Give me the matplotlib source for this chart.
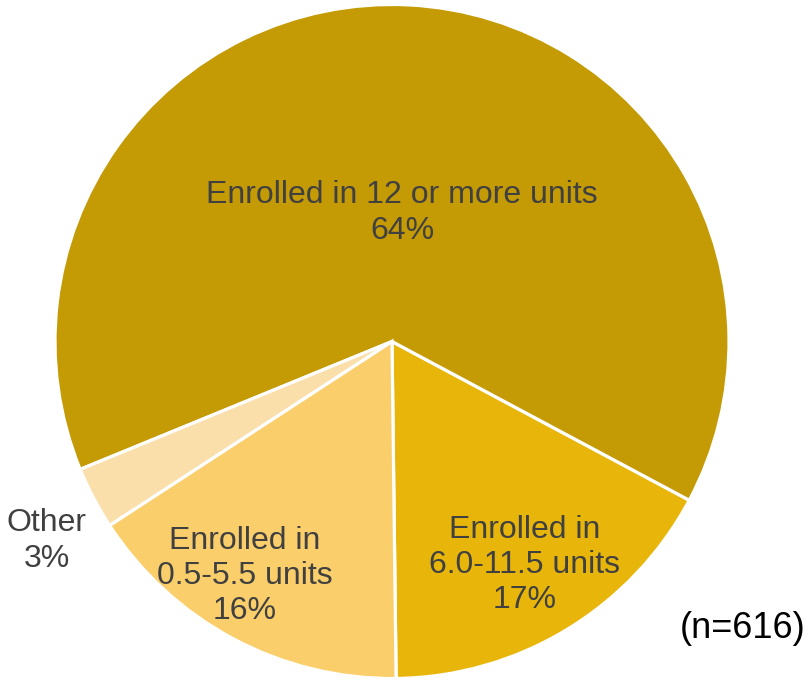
import matplotlib.pyplot as plt

plt.rcParams["font.family"] = ["Liberation Sans", "DejaVu Sans"]

# enrollment shares, counter-clockwise from the bottom
categories = ["Enrolled in\n6.0-11.5 units", "Enrolled in 12 or more units",
              "Other", "Enrolled in\n0.5-5.5 units"]
shares = [17, 64, 3, 16]
colors = ["#E8B60B", "#C49A05", "#FADFAB", "#FACE6A"]
sample_size = 616

W, H = 812, 681
fig = plt.figure(figsize=(W / 100, H / 100), dpi=100)
ax = fig.add_axes([0, 0, 1, 1])
ax.set_aspect("equal")
ax.axis("off")

cx, cy, r = 392, H - 341.5, 337
ax.pie(shares, colors=colors, startangle=-89.3, counterclock=True,
       center=(cx, cy), radius=r,
       wedgeprops=dict(edgecolor="white", linewidth=2.3))
ax.set_xlim(0, W)
ax.set_ylim(0, H)

# label placement (pixel coords, y from top)
label_pos = [(525, 565), (402, 213), (47, 541), (245, 576)]
for cat, val, (px, py) in zip(categories, shares, label_pos):
    ax.text(px, H - py, f"{cat}\n{val}%", ha="center", va="center",
            fontsize=23, color="#404040", linespacing=1.22)

ax.text(806, H - 629, f"(n={sample_size})", ha="right", va="center",
        fontsize=26, color="black")

fig.savefig("out.png", dpi=100)
